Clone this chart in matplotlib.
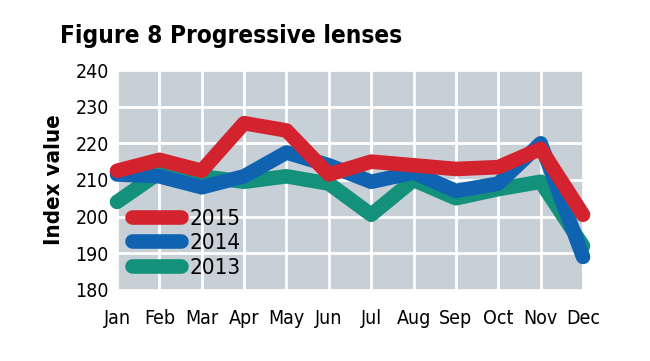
import matplotlib.pyplot as plt

months = ['Jan', 'Feb', 'Mar', 'Apr', 'May', 'Jun', 'Jul', 'Aug', 'Sep', 'Oct', 'Nov', 'Dec']
y2015 = [212.5, 215.5, 212.5, 225.5, 223.5, 211.5, 215, 214, 213, 213.5, 218.5, 200.5]
y2014 = [211.5, 211, 208, 211, 217.5, 214, 209.5, 212, 207, 209, 220, 189]
y2013 = [204, 212, 211, 209.5, 211, 209, 200.5, 210, 205, 207.5, 209.5, 192]
yticks = [180, 190, 200, 210, 220, 230, 240]

plt.rcParams['font.family'] = ['DejaVu Sans']
plt.rcParams['font.stretch'] = 'condensed'

fig = plt.figure(figsize=(6.5, 3.61), dpi=100)
ax = fig.add_axes([0.18, 0.197, 0.717, 0.609])
ax.set_facecolor('#c8d0d7')

x = list(range(len(months)))
series = [(y2013, '#14917a', '2013'), (y2014, '#1063b0', '2014'), (y2015, '#d2232e', '2015')]
handles = {}
for vals, col, lab in series:
    line, = ax.plot(x, vals, color=col, lw=10.5, solid_capstyle='round',
                    solid_joinstyle='round', clip_on=False, zorder=3, label=lab)
    handles[lab] = line

ax.set_xlim(0, 11)
ax.set_ylim(180, 240)
ax.set_xticks(x)
ax.set_xticklabels(months)
ax.set_yticks(yticks)
ax.grid(True, color='white', lw=2)
ax.set_axisbelow(True)
for s in ax.spines.values():
    s.set_visible(False)
ax.tick_params(length=0, labelsize=14, pad=6)
ax.tick_params(axis='x', pad=14)

ax.set_ylabel('Index value', fontsize=16, fontweight='bold', labelpad=8)
fig.text(0.092, 0.88, 'Figure 8 Progressive lenses', fontsize=17.5, fontweight='bold')

leg = ax.legend([handles['2015'], handles['2014'], handles['2013']], ['2015', '2014', '2013'],
                loc='lower left', bbox_to_anchor=(-0.01, -0.035), frameon=False,
                fontsize=16, handlelength=2.2, handletextpad=0.35, labelspacing=0.2)

plt.savefig('out.png')
